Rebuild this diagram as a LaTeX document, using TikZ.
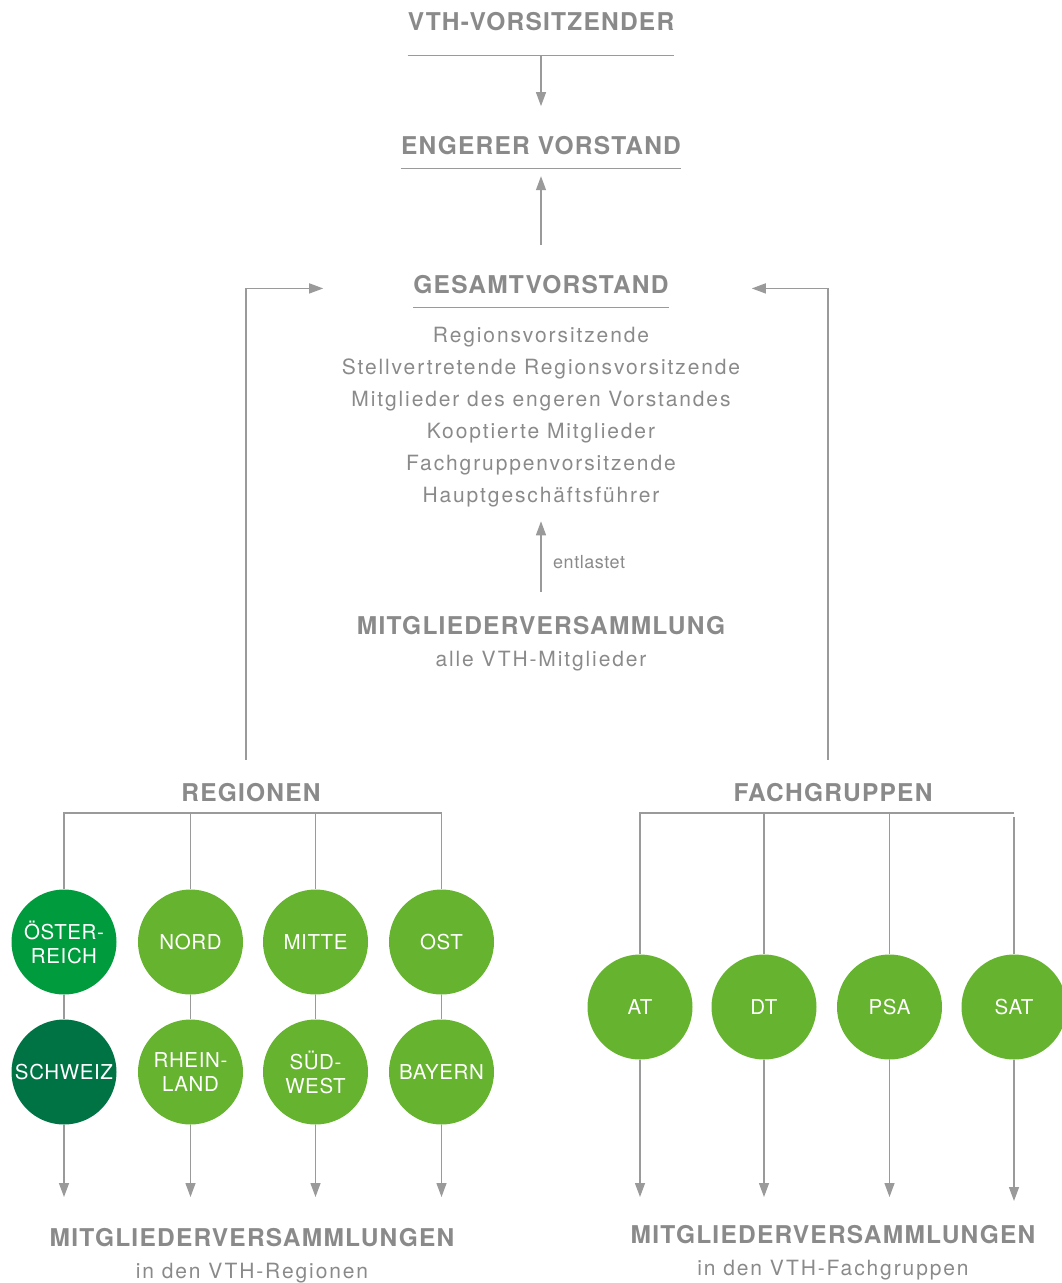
\documentclass[tikz,border=0pt]{standalone}
\usepackage{fontspec}
\setmainfont{TeX Gyre Heros}
\newfontfamily\kopffont[LetterSpace=5]{TeX Gyre Heros}
\newfontfamily\fliessfont[LetterSpace=9]{TeX Gyre Heros}
\newfontfamily\kreisfont[LetterSpace=3]{TeX Gyre Heros}
\newfontfamily\kleinfont[LetterSpace=3]{TeX Gyre Heros}
\usetikzlibrary{arrows.meta}
\definecolor{vthgrau}{HTML}{8A8A8A}
\definecolor{liniengrau}{HTML}{9A9A9A}
\definecolor{vthgruen}{HTML}{65B32E}
\definecolor{oegruen}{HTML}{009B3D}
\definecolor{chgruen}{HTML}{007344}
\tikzset{
  kopf/.style={font=\kopffont\bfseries\fontsize{24.5}{28}\selectfont, text=vthgrau, inner sep=0pt, anchor=base},
  titel/.style={kopf, inner xsep=0pt, inner ysep=13.5pt, text depth=0pt},
  liste/.style={font=\fliessfont\fontsize{21}{32}\selectfont, text=vthgrau, inner sep=0pt, anchor=base},
  kreis/.style={circle, fill=vthgruen, minimum size=105pt, inner sep=0pt, text=white, align=center, font=\kreisfont\fontsize{20.5}{24}\selectfont},
  linie/.style={draw=liniengrau, line width=1.3pt},
  pfeil/.style={linie, -{Triangle[length=14pt,width=10pt]}}
}

\begin{document}
\begin{tikzpicture}[x=1pt,y=-1pt]
  \useasboundingbox (0,0) rectangle (1062,1283);

  % Vorstand oben
  \node[titel, inner ysep=25pt] (vth) at (541,30) {VTH-VORSITZENDER};
  \node[titel] (eng) at (541,154.5) {ENGERER VORSTAND};
  \node[titel] (ges) at (541,293.5) {GESAMTVORSTAND};
  \draw[linie] (vth.south west) -- (vth.south east);
  \draw[linie] (eng.south west) -- (eng.south east);
  \draw[linie] (ges.south west) -- (ges.south east);
  \draw[pfeil, shorten >=16.5pt] (vth.south) -- (eng.north);
  \draw[pfeil, shorten <=16.5pt, shorten >=8pt] (ges.north) -- (eng.south);

  % Mitglieder des Gesamtvorstands
  \foreach \t [count=\i] in {Regionsvorsitzende, Stellvertretende Regionsvorsitzende,
      Mitglieder des engeren Vorstandes, Kooptierte Mitglieder,
      Fachgruppenvorsitzende, Hauptgeschäftsführer}
    \node[liste] (z\i) at (541,310+32*\i) {\t};

  % Mitgliederversammlung
  \node[kopf] (mv) at (541,634) {MITGLIEDERVERSAMMLUNG};
  \node[liste] (mvsub) at (541,666) {alle VTH-Mitglieder};
  \node[font=\kleinfont\fontsize{18}{22}\selectfont, text=vthgrau, inner sep=0pt, anchor=base west] (entl) at (553,568) {entlastet};
  \draw[pfeil, shorten <=24pt, shorten >=14.5pt] (mv.north) -- (z6.south);

  % Regionen
  \node[kopf] (reg) at (251,801) {REGIONEN};
  \coordinate (regbar) at (0,813);
  \coordinate (regauf) at (246,760);
  \coordinate (regziel) at (0,1197);
  \node[kreis, fill=oegruen] (oe) at (64,942) {ÖSTER-\\REICH};
  \node[kreis] (nord) at (190.5,942) {NORD};
  \node[kreis] (mitte) at (315.5,942) {MITTE};
  \node[kreis] (ost) at (441.5,942) {OST};
  \node[kreis, fill=chgruen] (ch) at (64,1072) {SCHWEIZ};
  \node[kreis] (rh) at (190.5,1072) {RHEIN-\\LAND};
  \node[kreis] (sw) at (315.5,1072) {SÜD-\\WEST};
  \node[kreis] (by) at (441.5,1072) {BAYERN};
  \draw[linie] (oe.north) |- (regbar -| ost.north) -- (ost.north);
  \foreach \k in {nord,mitte}
    \draw[linie] (\k.north) -- (\k.north |- regbar);
  \draw[linie] (oe.south) -- (ch.north);
  \draw[linie] (nord.south) -- (rh.north);
  \draw[linie] (mitte.south) -- (sw.north);
  \draw[linie] (ost.south) -- (by.north);
  \foreach \k in {ch,rh,sw,by}
    \draw[pfeil] (\k.south) -- (\k.south |- regziel);
  \draw[pfeil] (regauf) |- ([xshift=-90pt,yshift=-4pt]ges.west);

  % Fachgruppen
  \node[kopf] (fach) at (833,801) {FACHGRUPPEN};
  \coordinate (fachbar) at (0,813);
  \coordinate (fachauf) at (828,760);
  \coordinate (fachziel) at (0,1197);
  \node[kreis] (at) at (640,1007) {AT};
  \node[kreis] (dt) at (764,1007) {DT};
  \node[kreis] (psa) at (889.5,1007) {PSA};
  \node[kreis] (sat) at (1014,1007) {SAT};
  \draw[linie] (at.north) |- (fachbar -| sat.north);
  \draw[linie] (sat.north) -- ([yshift=-4pt]fachbar -| sat.north);
  \foreach \k in {dt,psa}
    \draw[linie] (\k.north) -- (\k.north |- fachbar);
  \foreach \k in {at,dt,psa}
    \draw[pfeil] (\k.south) -- (\k.south |- fachziel);
  \draw[pfeil] (sat.south) -- ([yshift=-4pt]sat.south |- fachziel);
  \draw[pfeil] (fachauf) |- ([xshift=83pt,yshift=-4pt]ges.east);

  % Mitgliederversammlungen unten
  \node[kopf] (mvreg) at (252,1246) {MITGLIEDERVERSAMMLUNGEN};
  \node[liste] (mvregsub) at (252,1278) {in den VTH-Regionen};
  \node[kopf] (mvfach) at (833,1243) {MITGLIEDERVERSAMMLUNGEN};
  \node[liste] (mvfachsub) at (833,1275) {in den VTH-Fachgruppen};
\end{tikzpicture}
\end{document}
